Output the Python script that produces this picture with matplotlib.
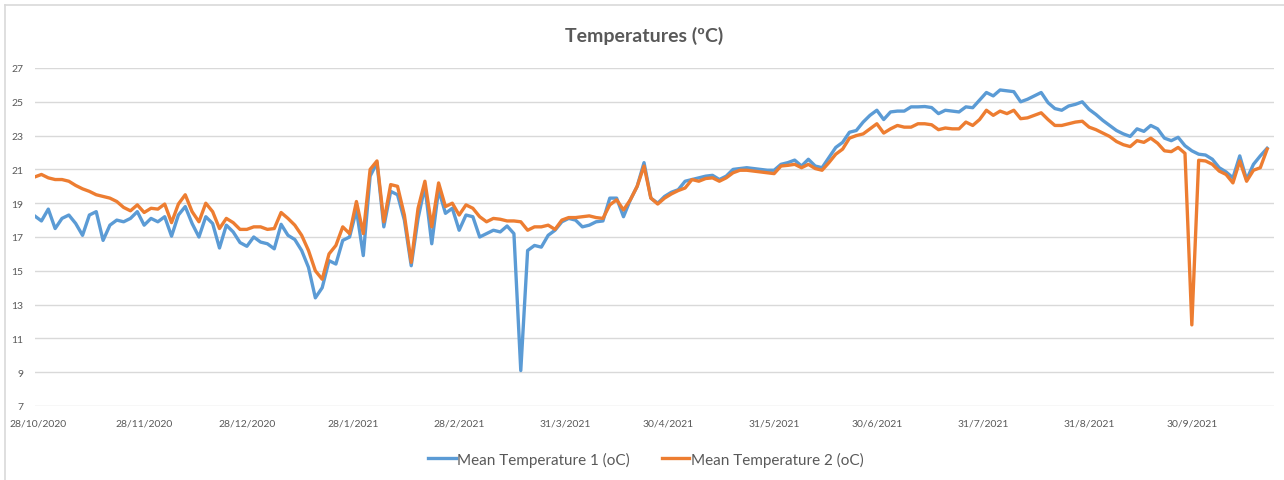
import matplotlib
matplotlib.use("Agg")
import matplotlib.pyplot as plt
from matplotlib.lines import Line2D
import pandas as pd

plt.rcParams['font.family'] = ['Lato', 'DejaVu Sans']

# readings every 2 days
dates = pd.date_range('2020-10-27', periods=181, freq='2D')

temp1 = [
    18.25, 17.95, 18.65, 17.5, 18.1, 18.3, 17.8, 17.1, 18.3, 18.5,
    16.8, 17.7, 18.0, 17.9, 18.1, 18.5, 17.7, 18.1, 17.9, 18.2,
    17.05, 18.3, 18.8, 17.8, 17.0, 18.2, 17.8, 16.35, 17.7, 17.3,
    16.67, 16.45, 17.0, 16.7, 16.6, 16.3, 17.75, 17.1, 16.85, 16.2,
    15.2, 13.4, 14.0, 15.6, 15.4, 16.8, 17.0, 18.6, 15.9, 20.6,
    21.4, 17.6, 19.7, 19.5, 18.0, 15.3, 18.1, 20.0, 16.6, 19.8,
    18.4, 18.7, 17.4, 18.3, 18.2, 17.0, 17.2, 17.4, 17.3, 17.65,
    17.2, 9.1, 16.2, 16.5, 16.4, 17.1, 17.4, 17.9, 18.1, 18.0,
    17.6, 17.7, 17.9, 17.95, 19.3, 19.3, 18.2, 19.2, 20.0, 21.4,
    19.3, 19.0, 19.4, 19.65, 19.8, 20.3, 20.4, 20.5, 20.6, 20.65,
    20.4, 20.6, 21.0, 21.05, 21.1, 21.05, 21.0, 20.95, 20.95, 21.3,
    21.4, 21.55, 21.2, 21.6, 21.2, 21.1, 21.7, 22.3, 22.6, 23.2,
    23.3, 23.8, 24.2, 24.5, 23.95, 24.4, 24.45, 24.45, 24.7, 24.7,
    24.72, 24.66, 24.3, 24.5, 24.45, 24.4, 24.7, 24.65, 25.1, 25.55,
    25.35, 25.7, 25.65, 25.6, 25.0, 25.15, 25.35, 25.55, 24.95, 24.6,
    24.5, 24.75, 24.85, 25.0, 24.55, 24.25, 23.9, 23.6, 23.3, 23.1,
    22.95, 23.4, 23.25, 23.6, 23.4, 22.85, 22.7, 22.9, 22.4, 22.1,
    21.9, 21.85, 21.6, 21.1, 20.85, 20.5, 21.8, 20.4, 21.3, 21.8,
    22.25,
]

temp2 = [
    20.55, 20.7, 20.5, 20.4, 20.4, 20.3, 20.05, 19.85, 19.7, 19.5,
    19.4, 19.3, 19.1, 18.75, 18.55, 18.9, 18.45, 18.7, 18.65, 18.95,
    17.85, 18.95, 19.5, 18.5, 17.9, 19.0, 18.5, 17.5, 18.1, 17.85,
    17.45, 17.45, 17.6, 17.6, 17.45, 17.5, 18.45, 18.1, 17.7, 17.1,
    16.2, 15.0, 14.5, 16.0, 16.5, 17.6, 17.2, 19.1, 17.2, 21.0,
    21.5, 17.9, 20.1, 20.0, 18.3, 15.5, 18.7, 20.3, 17.6, 20.2,
    18.8, 19.0, 18.3, 18.9, 18.7, 18.2, 17.9, 18.1, 18.05, 17.95,
    17.95, 17.9, 17.4, 17.6, 17.6, 17.7, 17.45, 18.0, 18.15, 18.15,
    18.2, 18.25, 18.15, 18.1, 18.9, 19.2, 18.6, 19.2, 20.0, 21.2,
    19.3, 18.95, 19.3, 19.55, 19.75, 19.9, 20.4, 20.3, 20.46, 20.5,
    20.3, 20.5, 20.8, 20.95, 20.95, 20.9, 20.85, 20.8, 20.75, 21.2,
    21.24, 21.3, 21.1, 21.3, 21.05, 20.95, 21.4, 21.9, 22.2, 22.85,
    23.0, 23.1, 23.4, 23.7, 23.15, 23.4, 23.6, 23.5, 23.5, 23.7,
    23.7, 23.64, 23.35, 23.45, 23.4, 23.4, 23.8, 23.6, 23.95, 24.5,
    24.2, 24.45, 24.3, 24.5, 24.0, 24.05, 24.2, 24.35, 23.95, 23.6,
    23.6, 23.7, 23.8, 23.85, 23.5, 23.35, 23.15, 22.95, 22.65, 22.46,
    22.35, 22.7, 22.6, 22.85, 22.55, 22.1, 22.05, 22.3, 21.95, 11.8,
    21.54, 21.5, 21.3, 20.9, 20.7, 20.2, 21.5, 20.3, 20.95, 21.1,
    22.2,
]

tick_dates = ['2020-10-28', '2020-11-28', '2020-12-28', '2021-01-28',
              '2021-02-28', '2021-03-31', '2021-04-30', '2021-05-31',
              '2021-06-30', '2021-07-31', '2021-08-31', '2021-09-30']
tick_labels = ['28/10/2020', '28/11/2020', '28/12/2020', '28/1/2021',
               '28/2/2021', '31/3/2021', '30/4/2021', '31/5/2021',
               '30/6/2021', '31/7/2021', '31/8/2021', '30/9/2021']
y_ticks = [7, 9, 11, 13, 15, 17, 19, 21, 23, 25, 27]

label1 = 'Mean Temperature 1 (oC)'
label2 = 'Mean Temperature 2 (oC)'

text_col = '#595959'
grid_col = '#D9D9D9'

fig = plt.figure(figsize=(12.84, 4.81), dpi=100, facecolor='white')
ax = fig.add_axes([34.6 / 1284, 1 - 407 / 481, (1274 - 34.6) / 1284, (407 - 69) / 481])

ax.plot(dates, temp1, color='#5B9BD5', lw=2.4, label=label1, solid_joinstyle='round')
ax.plot(dates, temp2, color='#ED7D31', lw=2.4, label=label2, solid_joinstyle='round')

ax.set_xlim(pd.Timestamp('2020-10-27'), pd.Timestamp('2021-10-24'))
ax.set_ylim(7, 27)
ax.set_yticks(y_ticks)
ax.set_xticks(pd.to_datetime(tick_dates))
ax.set_xticklabels(tick_labels)

ax.grid(axis='y', color=grid_col, lw=1)
ax.set_axisbelow(True)
for s in ax.spines.values():
    s.set_visible(False)
ax.tick_params(axis='both', length=0, colors=text_col, labelsize=7.5)
ax.tick_params(axis='x', pad=9)
ax.tick_params(axis='y', pad=8)

fig.text(0.502, 1 - 36 / 481, 'Temperatures (ºC)', ha='center', va='center',
         fontsize=14, fontweight='bold', color=text_col)

fig.legend(loc='center', bbox_to_anchor=(0.503, 1 - 460 / 481), ncol=2, frameon=False,
           fontsize=11, labelcolor=text_col, handlelength=1.8, handletextpad=0.1,
           columnspacing=2.1)

# chart frame (only top and left edges are inside the picture)
fig.add_artist(Line2D([5 / 1284, 1], [1 - 6 / 481, 1 - 6 / 481], color=grid_col, lw=1.2,
                      transform=fig.transFigure))
fig.add_artist(Line2D([5 / 1284, 5 / 1284], [0, 1 - 6 / 481], color=grid_col, lw=1.2,
                      transform=fig.transFigure))

fig.savefig('out.png', dpi=100, facecolor='white')
